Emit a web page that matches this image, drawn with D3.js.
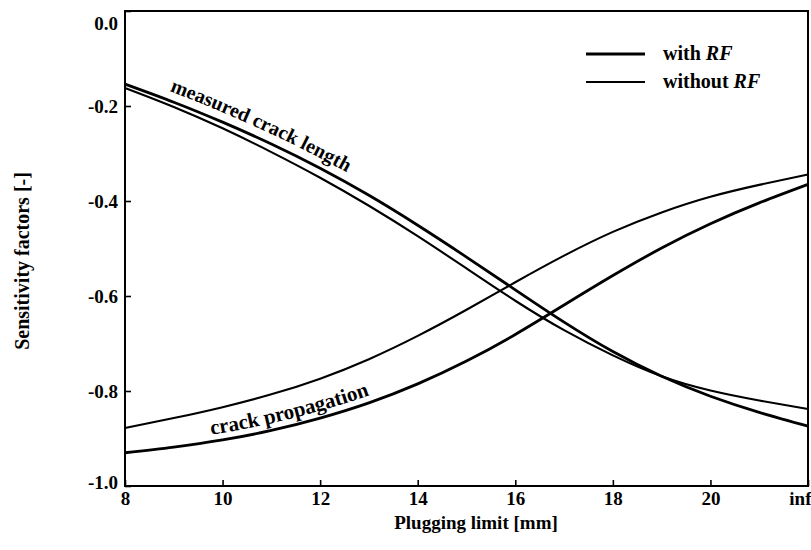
<!DOCTYPE html>
<html>
<head>
<meta charset="utf-8">
<script src="https://cdn.jsdelivr.net/npm/d3@7"></script>
<style>
  body { margin: 0; background: #fff; }
  svg { display: block; }
  text { font-family: "Liberation Serif", "Times New Roman", serif; fill: #000; }
</style>
</head>
<body>
<svg id="chart" width="811" height="550"></svg>
<script>
// plugging limit, 22 stands for "inf"
var plugLimit = [8, 9, 10, 11, 12, 13, 14, 15, 16, 17, 18, 19, 20, 21, 22];
var crackLenWith    = [-0.154, -0.192, -0.234, -0.28, -0.331, -0.388, -0.451, -0.518, -0.587, -0.655, -0.717, -0.769, -0.811, -0.845, -0.874];
var crackLenWithout = [-0.162, -0.202, -0.247, -0.297, -0.351, -0.41, -0.474, -0.542, -0.61, -0.672, -0.725, -0.769, -0.799, -0.82, -0.838];
var crackPropWith    = [-0.93, -0.918, -0.903, -0.883, -0.857, -0.825, -0.785, -0.737, -0.681, -0.619, -0.557, -0.499, -0.448, -0.404, -0.365];
var crackPropWithout = [-0.878, -0.857, -0.834, -0.807, -0.774, -0.733, -0.684, -0.629, -0.571, -0.515, -0.465, -0.424, -0.391, -0.366, -0.344];

var xTicks = [8, 10, 12, 14, 16, 18, 20, 22];
var xTickLabels = ["8", "10", "12", "14", "16", "18", "20", "inf"];
var yTicks = [0, -0.2, -0.4, -0.6, -0.8, -1.0];

var svg = d3.select("#chart");

const x = d3.scaleLinear().domain([8, 22]).range([125, 808]);
const y = d3.scaleLinear().domain([-1, 0]).range([486, 11]);

const line = d3.line()
    .x(function(d, i) { return x(plugLimit[i]); })
    .y(function(d) { return y(d); })
    .curve(d3.curveNatural);

// axes, ticks pointing inward
var xAxis = svg.append("g")
    .attr("transform", "translate(0," + y(-1) + ")")
    .call(d3.axisBottom(x).tickValues(xTicks).tickSize(-6).tickSizeOuter(0).tickPadding(6)
        .tickFormat(function(d, i) { return xTickLabels[i]; }));

var yAxis = svg.append("g")
    .attr("transform", "translate(" + x(8) + ",0)")
    .call(d3.axisLeft(y).tickValues(yTicks).tickSize(-6).tickSizeOuter(0).tickPadding(7)
        .tickFormat(function(d) { return d3.format(".1f")(d).replace("−", "-"); }));

svg.selectAll(".domain").remove();
svg.selectAll(".tick line").attr("stroke", "#000").attr("stroke-width", 1.6);
svg.selectAll(".tick text")
    .attr("font-family", "Liberation Serif")
    .attr("font-size", 19)
    .attr("font-weight", "bold");
// "inf" sits at the right edge of the frame
xAxis.selectAll(".tick text")
    .filter(function(d) { return d === 22; })
    .attr("text-anchor", "end")
    .attr("x", 3);
// first and last y labels sit inside the frame
yAxis.selectAll(".tick text").attr("dy", function(d) {
    if (d === 0) return "0.95em";
    if (d === -1) return "0.12em";
    return "0.32em";
});

// frame
svg.append("rect")
    .attr("x", x(8)).attr("y", y(0))
    .attr("width", x(22) - x(8)).attr("height", y(-1) - y(0))
    .attr("fill", "none").attr("stroke", "#000").attr("stroke-width", 2);

// curves
var series = [
    {id: "lenWith", values: crackLenWith, w: 2.8},
    {id: "lenWithout", values: crackLenWithout, w: 2.1},
    {id: "propWith", values: crackPropWith, w: 2.8},
    {id: "propWithout", values: crackPropWithout, w: 2.1}
];

svg.append("g").selectAll("path")
    .data(series)
    .join("path")
    .attr("id", function(d) { return "c_" + d.id; })
    .attr("d", function(d) { return line(d.values); })
    .attr("fill", "none")
    .attr("stroke", "#000")
    .attr("stroke-width", function(d) { return d.w; });

// labels along curves
svg.append("text")
    .attr("font-size", 20).attr("font-weight", "bold")
    .attr("dy", -9)
  .append("textPath")
    .attr("href", "#c_lenWith")
    .attr("startOffset", 44)
    .text("measured crack length");

svg.append("text")
    .attr("font-size", 21).attr("font-weight", "bold")
    .attr("dy", -7)
  .append("textPath")
    .attr("href", "#c_propWith")
    .attr("startOffset", 88)
    .text("crack propagation");

// legend
var legend = [
    {label: "with ", w: 3},
    {label: "without ", w: 2}
];
var lg = svg.append("g").selectAll("g")
    .data(legend)
    .join("g")
    .attr("transform", function(d, i) { return "translate(586," + (54 + i * 28) + ")"; });
lg.append("line")
    .attr("x1", 0).attr("x2", 59)
    .attr("stroke", "#000")
    .attr("stroke-width", function(d) { return d.w; });
var lt = lg.append("text")
    .attr("x", 77).attr("y", 6)
    .attr("font-size", 20).attr("font-weight", "bold");
lt.append("tspan").text(function(d) { return d.label; });
lt.append("tspan").attr("font-style", "italic").text("RF");

// axis titles
svg.append("text")
    .attr("x", 476).attr("y", 529)
    .attr("text-anchor", "middle")
    .attr("font-size", 19).attr("font-weight", "bold")
    .text("Plugging limit [mm]");

svg.append("text")
    .attr("transform", "translate(29,261) rotate(-90)")
    .attr("text-anchor", "middle")
    .attr("font-size", 20).attr("font-weight", "bold")
    .text("Sensitivity factors [-]");
</script>
</body>
</html>
